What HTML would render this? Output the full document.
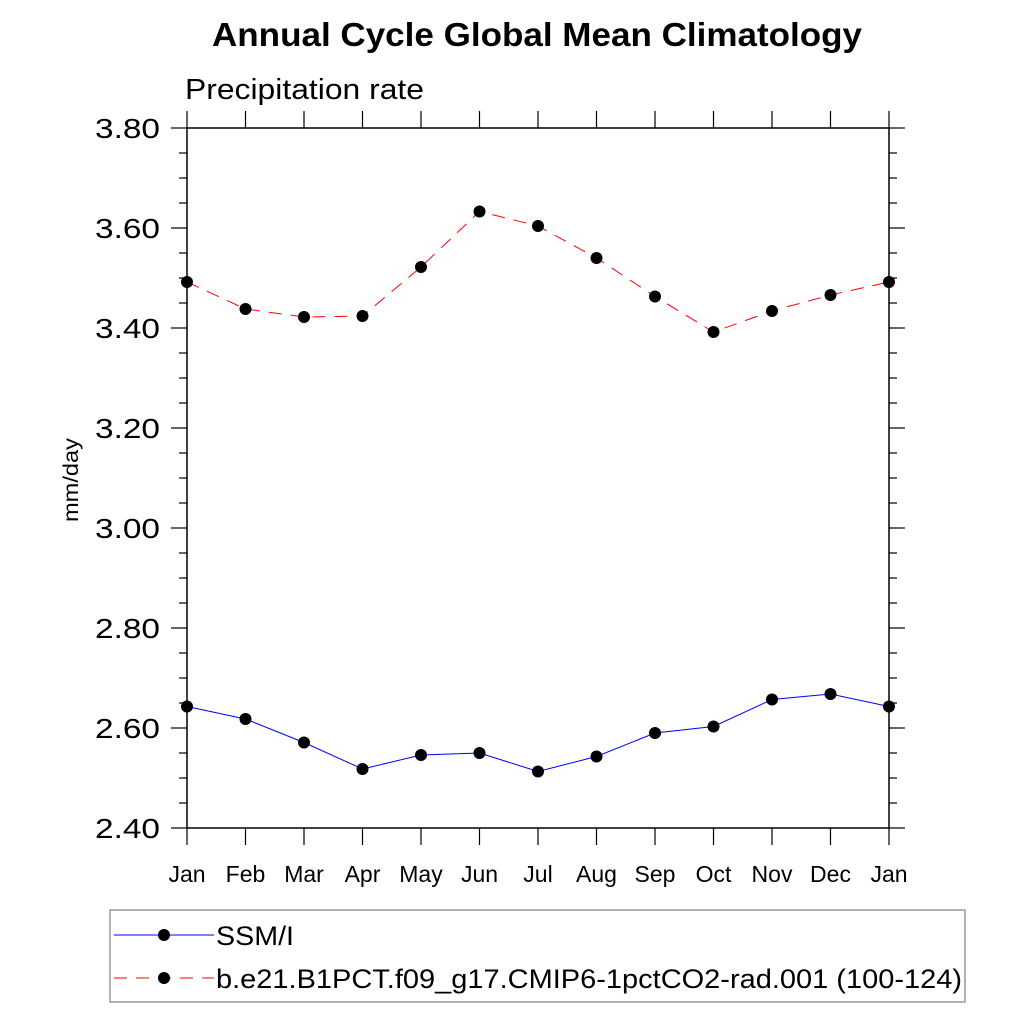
<!DOCTYPE html>
<html><head><meta charset="utf-8"><style>
body{margin:0;background:#fff;}
svg text{font-family:"Liberation Sans",sans-serif;}
</style></head><body>
<svg id="chart" width="1024" height="1024" xmlns="http://www.w3.org/2000/svg">
<text x="212" y="46" font-size="33" font-weight="bold" textLength="650" lengthAdjust="spacingAndGlyphs">Annual Cycle Global Mean Climatology</text>
<text x="185" y="99" font-size="29" textLength="239" lengthAdjust="spacingAndGlyphs">Precipitation rate</text>
<text transform="translate(78,480) rotate(-90)" font-size="21" text-anchor="middle" textLength="84" lengthAdjust="spacingAndGlyphs">mm/day</text>
<g id="axes"></g>
<g id="series"></g>
<rect x="110" y="910" width="855" height="92" fill="none" stroke="#999" stroke-width="1.5"/>
<line x1="114" y1="935" x2="214" y2="935" stroke="#0000ff" stroke-width="1"/>
<circle cx="164" cy="935" r="6" fill="#000"/>
<text x="216" y="945" font-size="27" textLength="78" lengthAdjust="spacingAndGlyphs">SSM/I</text>
<line x1="114" y1="978" x2="214" y2="978" stroke="#ff0000" stroke-width="1" stroke-dasharray="13,9"/>
<circle cx="164" cy="978" r="6" fill="#000"/>
<text x="216" y="988" font-size="27" textLength="746" lengthAdjust="spacingAndGlyphs">b.e21.B1PCT.f09_g17.CMIP6-1pctCO2-rad.001 (100-124)</text>
</svg>
<script>
const months = ["Jan","Feb","Mar","Apr","May","Jun","Jul","Aug","Sep","Oct","Nov","Dec","Jan"];
const ssmiValues = [2.643,2.618,2.571,2.518,2.546,2.550,2.513,2.543,2.590,2.603,2.657,2.668,2.643];
const modelValues = [3.492,3.438,3.422,3.424,3.522,3.633,3.604,3.540,3.463,3.392,3.434,3.466,3.492];
const yTicks = [2.40,2.60,2.80,3.00,3.20,3.40,3.60,3.80];
const yTickLabels = ["2.40","2.60","2.80","3.00","3.20","3.40","3.60","3.80"];

const L=187,R=889,T=128,B=828,yMin=2.4,yMax=3.8;
const xs=i=>L+(R-L)*i/(months.length-1);
const ys=v=>B-(v-yMin)/(yMax-yMin)*(B-T);
const NS="http://www.w3.org/2000/svg";
const axes=document.getElementById('axes'), ser=document.getElementById('series');
function mk(tag,attrs,parent){const e=document.createElementNS(NS,tag);for(const k in attrs)e.setAttribute(k,attrs[k]);parent.appendChild(e);return e;}
const frame=mk('rect',{x:L,y:T,width:R-L,height:B-T,fill:'none',stroke:'#000','stroke-width':1.5},axes);


for(let v=yMin;v<=yMax+1e-9;v+=0.05){
  const y=ys(v); const major=Math.abs(Math.round(v*100)%20)<1e-6; const len=major?16:8;
  const t1=mk('line',{x1:L-len,y1:y,x2:L,y2:y,stroke:'#000','stroke-width':1.2},axes);
  
  
  const t2=mk('line',{x1:R,y1:y,x2:R+len,y2:y,stroke:'#000','stroke-width':1.2},axes);
  
  
}
yTicks.forEach((v,i)=>{
  const t=mk('text',{x:95,y:ys(v)+10,'font-size':28,textLength:65,lengthAdjust:'spacingAndGlyphs'},axes);t.textContent=yTickLabels[i];
  
  
});
months.forEach((m,i)=>{
  const x=xs(i);
  const a=mk('line',{x1:x,y1:B,x2:x,y2:B+17,stroke:'#000','stroke-width':1.2},axes);
  
  
  const b=mk('line',{x1:x,y1:T-17,x2:x,y2:T,stroke:'#000','stroke-width':1.2},axes);
  
  
  const t=mk('text',{x:x,y:882,'font-size':23,'text-anchor':'middle'},axes);t.textContent=m;
  
  
});
function draw(vals,color,dash,name){
  const pts=vals.map((v,i)=>xs(i)+','+ys(v)).join(' ');
  const p=mk('polyline',{points:pts,fill:'none',stroke:color,'stroke-width':1,'stroke-dasharray':dash},ser);
  
  
  vals.forEach((v,i)=>{
    const c=mk('circle',{cx:xs(i),cy:ys(v),r:6,fill:'#000'},ser);
    
    
  });
}
draw(ssmiValues,'#0000ff','none','ssmi');
draw(modelValues,'#ff0000','13,9','model');
</script>
</body></html>
